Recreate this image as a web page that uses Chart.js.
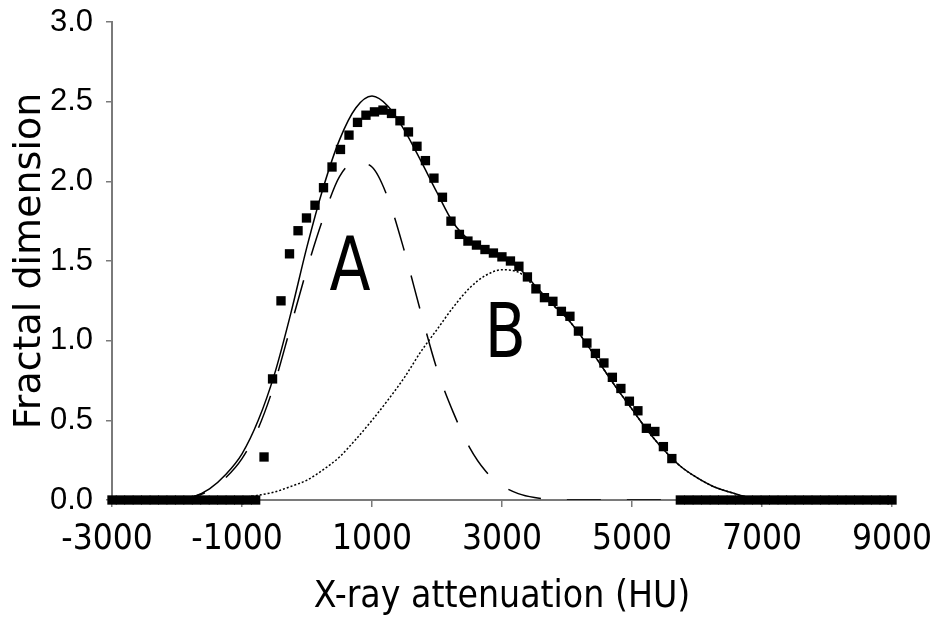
<!DOCTYPE html>
<html>
<head>
<meta charset="utf-8">
<script src="https://cdn.jsdelivr.net/npm/chart.js@4.4.0/dist/chart.umd.min.js"></script>
<style>
  body { margin: 0; background: #fff; }
  #wrap { width: 939px; height: 621px; }
</style>
</head>
<body>
<div id="wrap"><canvas id="chart" width="939" height="621"></canvas></div>
<script>
// measured fractal dimension (squares)
const measuredX = [-661, -530, -400, -269, -138, -8, 123, 254, 385, 515, 646, 777, 907, 1038, 1169, 1300,
  1430, 1561, 1692, 1822, 1953, 2084, 2215, 2345, 2476, 2607, 2738, 2868, 2999, 3130, 3260, 3391, 3522,
  3653, 3783, 3914, 4045, 4176, 4306, 4437, 4568, 4698, 4829, 4960, 5091, 5221, 5352, 5483, 5613];
const measuredY = [0.27, 0.76, 1.25, 1.545, 1.69, 1.77, 1.85, 1.96, 2.09, 2.2, 2.29, 2.37, 2.415, 2.436, 2.447, 2.426,
  2.38, 2.31, 2.22, 2.13, 2.02, 1.9, 1.75, 1.667, 1.625, 1.6, 1.572, 1.55, 1.526, 1.5, 1.467, 1.4, 1.325,
  1.27, 1.247, 1.184, 1.153, 1.06, 0.985, 0.92, 0.86, 0.77, 0.7, 0.62, 0.56, 0.45, 0.43, 0.335, 0.26];
// squares sitting on zero at both ends
const zeroLeftX = [-3000, -2870, -2740, -2610, -2480, -2350, -2220, -2090, -1960, -1830, -1700, -1570,
  -1440, -1310, -1180, -1050, -920, -790];
const zeroRightX = [5744, 5875, 6005, 6136, 6267, 6397, 6528, 6659, 6789, 6920, 7051, 7181, 7312, 7443,
  7573, 7704, 7835, 7966, 8096, 8227, 8358, 8488, 8619, 8750, 8880, 9000];

// fitted curves: total (solid), peak A (dashed), peak B (dotted)
const curveX = [-3000, -2000, -1750, -1500, -1250, -1000, -750, -500, -250, 0, 250, 500, 750, 1000, 1250,
  1500, 1750, 2000, 2250, 2500, 2750, 3000, 3250, 3500, 3750, 4000, 4250, 4500, 4750, 5000, 5250, 5500,
  5750, 6000, 6250, 6500, 6750, 7000, 9000];
const fitTotal = [0, 0, 0.02, 0.07, 0.16, 0.29, 0.5, 0.79, 1.17, 1.59, 1.96, 2.26, 2.46, 2.535, 2.47,
  2.32, 2.13, 1.93, 1.74, 1.63, 1.57, 1.52, 1.46, 1.35, 1.24, 1.14, 1.01, 0.86, 0.71, 0.57, 0.43, 0.31,
  0.21, 0.14, 0.085, 0.05, 0.02, 0, 0];
const fitA = [0, 0, 0.02, 0.06, 0.14, 0.26, 0.45, 0.73, 1.09, 1.45, 1.77, 2.03, 2.12, 2.09, 1.89,
  1.56, 1.18, 0.82, 0.55, 0.33, 0.18, 0.09, 0.04, 0.015, 0.005, 0, 0, 0, 0, 0, 0, 0,
  0, 0, 0, 0, 0, 0, 0];
const fitB = [0, 0, 0, 0.005, 0.01, 0.015, 0.03, 0.05, 0.085, 0.125, 0.19, 0.27, 0.38, 0.5, 0.63,
  0.77, 0.93, 1.07, 1.21, 1.33, 1.41, 1.445, 1.43, 1.34, 1.235, 1.14, 1.01, 0.86, 0.71, 0.57, 0.43, 0.31,
  0.21, 0.14, 0.085, 0.05, 0.02, 0, 0];

// peak letters
const labelText = ["A", "B"];
const labelX = [660, 3050];
const labelY = [1.32, 0.9];

const condensed = '"DejaVu Sans Condensed", "DejaVu Sans", sans-serif';
const axisGrey = "#7a7a7a";

// build point list for the squares
const squares = [];
zeroLeftX.forEach((x) => squares.push({ x: x, y: 0 }));
measuredX.forEach((x, i) => squares.push({ x: x, y: measuredY[i] }));
zeroRightX.forEach((x) => squares.push({ x: x, y: 0 }));

function curve(ys) {
  return curveX.map((x, i) => ({ x: x, y: ys[i] }));
}

// draws the big A / B letters at data positions
const peakLabels = {
  id: "peakLabels",
  afterDatasetsDraw(chart) {
    const ctx = chart.ctx;
    const xs = chart.scales.x;
    const ys = chart.scales.y;
    ctx.save();
    ctx.fillStyle = "#000";
    ctx.textAlign = "center";
    ctx.textBaseline = "alphabetic";
    ctx.font = '75px "DejaVu Sans"';
    for (let i = 0; i < labelText.length; i++) {
      ctx.save();
      ctx.translate(xs.getPixelForValue(labelX[i]), ys.getPixelForValue(labelY[i]));
      ctx.scale(0.8, 1);
      ctx.fillText(labelText[i], 0, 0);
      ctx.restore();
    }
    ctx.restore();
  },
};

const ctx = document.getElementById("chart").getContext("2d");

new Chart(ctx, {
  type: "scatter",
  data: {
    datasets: [
      {
        label: "measured",
        data: squares,
        pointStyle: "rect",
        pointRadius: 6.6,
        backgroundColor: "#000",
        borderColor: "#000",
        borderWidth: 0,
        clip: false,
      },
      {
        label: "total",
        data: curve(fitTotal),
        showLine: true,
        borderColor: "#000",
        borderWidth: 1.5,
        pointRadius: 0,
        cubicInterpolationMode: "monotone",
      },
      {
        label: "A",
        data: curve(fitA),
        showLine: true,
        borderColor: "#000",
        borderWidth: 1.5,
        borderDash: [34, 26],
        pointRadius: 0,
        cubicInterpolationMode: "monotone",
      },
      {
        label: "B",
        data: curve(fitB),
        showLine: true,
        borderColor: "#000",
        borderWidth: 1.5,
        borderDash: [2, 2],
        pointRadius: 0,
        cubicInterpolationMode: "monotone",
      },
    ],
  },
  options: {
    responsive: false,
    animation: false,
    layout: { padding: { top: 22, right: 47, left: 0, bottom: 0 } },
    plugins: { legend: { display: false }, tooltip: { enabled: false } },
    scales: {
      x: {
        type: "linear",
        min: -3000,
        max: 9000,
        afterFit: (s) => {
          s.height = 121;
          s.paddingLeft = 0;
          s.paddingRight = 0;
        },
        grid: { drawOnChartArea: false, tickLength: 7, color: axisGrey, lineWidth: 1.5 },
        border: { color: axisGrey, width: 2 },
        ticks: {
          stepSize: 2000,
          color: "#000",
          padding: 12,
          maxRotation: 0,
          autoSkip: false,
          font: { family: condensed, size: 35 },
          callback: (v) => (v < 0 ? v + " " : String(v)),
        },
        title: {
          display: true,
          text: "X-ray attenuation (HU)",
          color: "#000",
          font: { family: condensed, size: 37 },
          padding: { top: 0, bottom: 1 },
        },
      },
      y: {
        min: 0,
        max: 3,
        afterFit: (s) => {
          s.width = 112;
          s.paddingTop = 0;
          s.paddingBottom = 0;
        },
        grid: { drawOnChartArea: false, tickLength: 6, color: axisGrey, lineWidth: 1.5 },
        border: { color: axisGrey, width: 2 },
        ticks: {
          stepSize: 0.5,
          color: "#000",
          padding: 13,
          font: { family: '"Liberation Sans Narrow", "Liberation Sans", sans-serif', size: 31 },
          callback: (v) => v.toFixed(1),
        },
        title: {
          display: true,
          text: "Fractal dimension",
          color: "#000",
          font: { family: '"DejaVu Sans", sans-serif', size: 38 },
          padding: { top: 7, bottom: 0 },
        },
      },
    },
  },
  plugins: [peakLabels],
});
</script>
</body>
</html>
